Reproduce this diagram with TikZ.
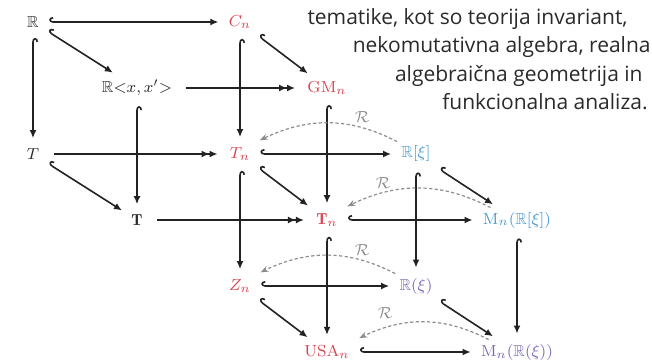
\documentclass[tikz,border=0pt]{standalone}
\usepackage{amsmath,amssymb}
\usepackage{fontspec}
\newfontfamily\parafont{Open Sans}
\usepackage{xcolor}
\definecolor{inkline}{HTML}{222222}
\definecolor{inktext}{HTML}{2A2A2A}
\definecolor{tred}{HTML}{D9424F}
\definecolor{tblue}{HTML}{4A9BD0}
\definecolor{tpurple}{HTML}{7E67B5}
\definecolor{rgray}{HTML}{8C8C8C}
\usetikzlibrary{arrows.meta,bending}

\begin{document}
\begin{tikzpicture}[
		x=0.5pt, y=-0.5pt,
		obj/.style={font=\footnotesize, inner sep=2pt, text=inktext},
		incl/.style={draw=inkline, line width=0.8pt, {Hooks[right,length=2pt,width=5pt]}-{Latex[length=4pt,width=3.5pt]}, shorten <=3pt, shorten >=3pt},
		surj/.style={draw=inkline, line width=0.8pt, -{Latex[length=4pt,width=3.5pt]Latex[length=4pt,width=3.5pt]}, shorten <=5pt, shorten >=4pt},
		retr/.style={draw=rgray, dash pattern=on 1.6pt off 1.2pt, line width=0.6pt, -{Stealth[length=4pt,width=3pt]}, bend right=28, shorten >=3pt},
		retrlabel/.style={font=\footnotesize, text=rgray, inner sep=0pt},
		para/.style={font=\parafont\fontsize{10.5}{14}\selectfont, text=inktext, anchor=base east, inner sep=0pt}
	]
		\useasboundingbox (0,0) rectangle (652,363);

		% Top layer
		\node[obj] (R) at (33,22) {$\mathbb{R}$};
		\node[obj, text=tred] (Cn) at (240,22) {$C_n$};
		\node[obj] (Rxx) at (137,88) {$\mathbb{R}{<}x,x'{>}$};
		\node[obj, text=tred] (GMn) at (327,88) {$\mathrm{GM}_n$};

		% Middle layer
		\node[obj] (T) at (33,154) {$T$};
		\node[obj, text=tred] (Tn) at (240,154) {$T_n$};
		\node[obj, text=tblue] (Rxi) at (416,154) {$\mathbb{R}[\xi]$};
		\node[obj] (bT) at (137,220) {$\mathbf{T}$};
		\node[obj, text=tred] (bTn) at (327,220) {$\mathbf{T}_n$};
		\node[obj, text=tblue] (MRxi) at (517,220) {$\mathrm{M}_n(\mathbb{R}[\xi])$};

		% Bottom layer
		\node[obj, text=tred] (Zn) at (240,286) {$Z_n$};
		\node[obj, text=tpurple] (Rfxi) at (416,286) {$\mathbb{R}(\xi)$};
		\node[obj, text=tred] (USAn) at (327,352) {$\mathrm{USA}_n$};
		\node[obj, text=tpurple] (MRfxi) at (517,352) {$\mathrm{M}_n(\mathbb{R}(\xi))$};

		% Inclusions
		\foreach \a/\b in {R/Cn, Tn/Rxi, bTn/MRxi, Zn/Rfxi, USAn/MRfxi,
				R/T, Cn/Tn, Rxx/bT, GMn/bTn, Tn/Zn, Rxi/Rfxi, bTn/USAn, MRxi/MRfxi,
				R/Rxx, Cn/GMn, T/bT, Tn/bTn, Rxi/MRxi, Zn/USAn, Rfxi/MRfxi}
			\draw[incl] (\a) -- (\b);

		% Surjections
		\foreach \a/\b in {Rxx/GMn, T/Tn, bT/bTn}
			\draw[surj] (\a) -- (\b);

		% Retractions R
		\foreach \a/\b/\sh/\lx/\ly in {Rxi/Tn/0/362/117, MRxi/bTn/6/383/183, Rfxi/Zn/0/362/250, MRfxi/USAn/6/385/313} {
			\draw[retr] ([xshift=\sh pt]\a.north west) to (\b.north east);
			\node[retrlabel] (lab-\a) at (\lx,\ly) {$\mathcal{R}$};
		}

		% Text beside the diagram
		\node[para] (line1) at (628,25) {tematike, kot so teorija invariant,};
		\node[para] (line2) at (651,53) {nekomutativna algebra, realna};
		\node[para] (line3) at (643,82) {algebraična geometrija in};
		\node[para] (line4) at (648,110) {funkcionalna analiza.};
	\end{tikzpicture}
\end{document}
